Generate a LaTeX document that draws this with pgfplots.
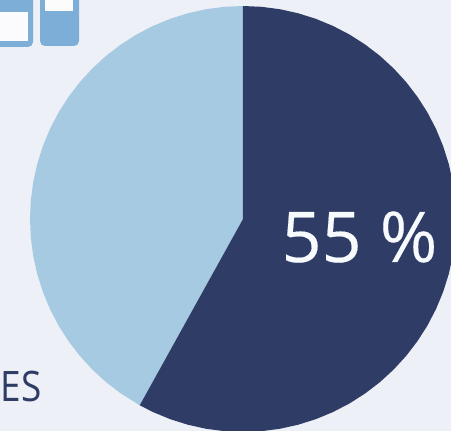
\documentclass[border=0pt]{standalone}
\usepackage{pgfplots}
\pgfplotsset{compat=1.18}
\usepgfplotslibrary{polar}
\usepackage{fontspec}
\setmainfont{Open Sans}
\newfontfamily\heavyfont[FakeBold=0.25]{Open Sans}
\definecolor{bgc}{HTML}{EEF0F7}
\definecolor{darkp}{HTML}{2F3C66}
\definecolor{lightp}{HTML}{A5CAE2}
\definecolor{iconb}{HTML}{7DAED8}
\begin{document}
\begin{tikzpicture}[x=1pt,y=1pt]
\path[use as bounding box] (0,0) rectangle (451,431);
\clip (0,0) rectangle (451,431);
\fill[bgc] (0,0) rectangle (451,431);
% icons (top left)
\fill[iconb,rounded corners=5pt] (-20,384) rectangle (33,450);
\fill[white!75!bgc] (-20,390) rectangle (28,419);
\fill[iconb,rounded corners=5pt] (40,385) rectangle (79,450);
\fill[white!80!bgc] (45,420) rectangle (73,450);
\begin{polaraxis}[
  at={(243pt,212pt)}, anchor=origin,
  scale only axis, width=426pt, height=426pt,
  xmin=0, xmax=360, ymin=0, ymax=1,
  hide axis, clip=false]
\addplot[fill=lightp,draw=none] coordinates {(0,0)(-119,1)(-125,1)(-130,1)(-135,1)(-140,1)(-145,1)(-150,1)(-155,1)(-160,1)(-165,1)(-170,1)(-175,1)(-180,1)(-185,1)(-190,1)(-195,1)(-200,1)(-205,1)(-210,1)(-215,1)(-220,1)(-225,1)(-230,1)(-235,1)(-240,1)(-245,1)(-250,1)(-255,1)(-260,1)(-265,1)(-270,1)(0,0)};
\addplot[fill=darkp,draw=none] coordinates {(0,0)(90,1)(85,1)(80,1)(75,1)(70,1)(65,1)(60,1)(55,1)(50,1)(45,1)(40,1)(35,1)(30,1)(25,1)(20,1)(15,1)(10,1)(5,1)(0,1)(-5,1)(-10,1)(-15,1)(-20,1)(-25,1)(-30,1)(-35,1)(-40,1)(-45,1)(-50,1)(-55,1)(-60,1)(-65,1)(-70,1)(-75,1)(-80,1)(-85,1)(-90,1)(-95,1)(-100,1)(-105,1)(-110,1)(-115,1)(-119,1)(0,0)};
\end{polaraxis}
\node[text=white!92!lightp,font=\heavyfont\fontsize{70}{70}\selectfont,anchor=base] at (359.5,169) {55 \%};
\node[text=darkp,font=\fontsize{42}{42}\selectfont,anchor=base east,xscale=0.88,inner sep=0pt] at (42,29) {ES};
\end{tikzpicture}
\end{document}
